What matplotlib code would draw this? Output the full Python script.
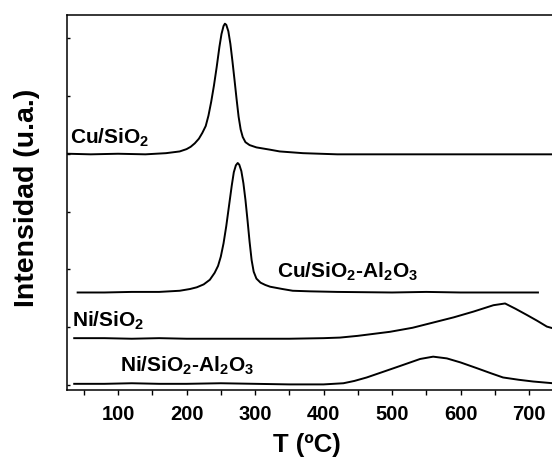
import matplotlib
matplotlib.use("Agg")
import matplotlib.pyplot as plt

plt.rcParams['font.family'] = ['Liberation Sans', 'DejaVu Sans']
plt.rcParams['font.weight'] = 'bold'
plt.rcParams['mathtext.fontset'] = 'custom'
plt.rcParams['mathtext.rm'] = 'Liberation Sans:bold'
plt.rcParams['mathtext.it'] = 'Liberation Sans:bold'
plt.rcParams['mathtext.bf'] = 'Liberation Sans:bold'
plt.rcParams['mathtext.default'] = 'rm'

# TPR curves (T in C, intensity in arbitrary units)
cu_si_t = [27, 60, 100, 140, 170, 190, 200, 206, 212, 218, 223, 228, 232, 236, 240, 244,
           248, 251, 254, 256, 258, 261, 264, 267, 270, 273, 276, 279, 282, 286, 292, 302,
           322, 336, 370, 420, 500, 600, 700, 735]
cu_si_v = [4.00, 3.99, 4.00, 3.99, 4.01, 4.04, 4.08, 4.12, 4.18, 4.26, 4.36, 4.48, 4.66,
           4.90, 5.18, 5.50, 5.85, 6.07, 6.21, 6.25, 6.23, 6.12, 5.90, 5.60, 5.28, 4.95,
           4.64, 4.42, 4.29, 4.20, 4.15, 4.11, 4.07, 4.04, 4.01, 3.99, 3.99, 3.99, 3.99,
           3.99]

cu_sial_t = [41, 80, 120, 160, 190, 205, 215, 225, 234, 241, 246, 250, 254, 258, 262, 266,
             269, 272, 274.7, 277, 280, 283, 286, 289, 292, 295, 298, 302, 308, 315, 322,
             340, 355, 380, 420, 500, 550, 600, 650, 713]
cu_sial_v = [1.60, 1.60, 1.61, 1.61, 1.63, 1.66, 1.69, 1.74, 1.82, 1.94, 2.06, 2.22, 2.45,
             2.75, 3.10, 3.45, 3.68, 3.80, 3.84, 3.81, 3.70, 3.49, 3.20, 2.85, 2.48, 2.16,
             1.96, 1.84, 1.77, 1.73, 1.70, 1.66, 1.63, 1.62, 1.61, 1.60, 1.61, 1.60, 1.60,
             1.60]

ni_si_t = [36, 80, 120, 160, 200, 250, 300, 350, 400, 424, 450, 497, 530, 560, 590, 619,
           648, 665, 680, 697, 712, 726, 735]
ni_si_v = [0.81, 0.81, 0.80, 0.81, 0.80, 0.80, 0.80, 0.80, 0.81, 0.82, 0.85, 0.92, 0.99,
           1.08, 1.17, 1.27, 1.38, 1.41, 1.32, 1.21, 1.11, 1.01, 0.98]

ni_sial_t = [36, 80, 120, 160, 200, 250, 300, 350, 400, 429, 445, 463, 490, 512, 541, 560,
             580, 600, 624, 645, 662, 685, 706, 735]
ni_sial_v = [0.02, 0.02, 0.03, 0.02, 0.02, 0.03, 0.02, 0.01, 0.01, 0.03, 0.07, 0.13, 0.24,
             0.33, 0.45, 0.49, 0.46, 0.39, 0.29, 0.20, 0.13, 0.09, 0.06, 0.03]

fig = plt.figure(figsize=(5.52, 4.59), dpi=100)
ax = fig.add_axes([0.1214, 0.1503, 0.8786, 0.817])

for t, v in [(cu_si_t, cu_si_v), (cu_sial_t, cu_sial_v),
             (ni_si_t, ni_si_v), (ni_sial_t, ni_sial_v)]:
    ax.plot(t, v, color='black', lw=1.4)

lab_fs = 15
ax.text(30, 4.18, r'Cu/SiO$_2$', fontsize=lab_fs, fontweight='bold', va='baseline')
ax.text(332, 1.85, r'Cu/SiO$_2$-Al$_2$O$_3$', fontsize=lab_fs, fontweight='bold', va='baseline')
ax.text(33, 1.01, r'Ni/SiO$_2$', fontsize=lab_fs, fontweight='bold', va='baseline')
ax.text(103, 0.23, r'Ni/SiO$_2$-Al$_2$O$_3$', fontsize=lab_fs, fontweight='bold', va='baseline')

ax.set_xlim(25.5, 733.5)
ax.set_ylim(-0.087, 6.40)
ax.set_xticks([100, 200, 300, 400, 500, 600, 700])
ax.set_xticks([50, 150, 250, 350, 450, 550, 650], minor=True)
ax.set_yticks([0, 1, 2, 3, 4, 5, 6])
ax.set_yticklabels([])
ax.tick_params(axis='x', which='both', direction='out', length=3.6, width=1, labelsize=14.5, pad=7)
ax.tick_params(axis='y', direction='in', length=2, width=1)
for lab in ax.get_xticklabels():
    lab.set_fontweight('bold')
ax.spines['right'].set_visible(False)
for s in ['left', 'top', 'bottom']:
    ax.spines[s].set_linewidth(1.1)

fig.text(307 / 552, 1 - 451.7 / 459, 'T (ºC)', fontsize=18.5, fontweight='bold',
         ha='center', va='baseline')
fig.text(27.5 / 552, 1 - 198 / 459, 'Intensidad (u.a.)', fontsize=20.5, fontweight='bold',
         rotation=90, ha='center', va='center')

fig.savefig('out.png', dpi=100)
